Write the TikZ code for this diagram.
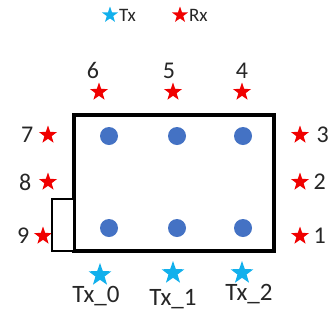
\documentclass[tikz,border=0pt]{standalone}
\usepackage{fontspec}
\setmainfont{Carlito}
\usepackage{tikz}
\usetikzlibrary{positioning,shapes.geometric}
\usepackage{xcolor}
\definecolor{rxRed}{HTML}{F00000}
\definecolor{txBlue}{HTML}{12B0EC}
\definecolor{antBlue}{HTML}{4472C4}
\definecolor{inkGray}{HTML}{262626}

\begin{document}
\begin{tikzpicture}[x=1pt, y=-1pt,
    rxStar/.style={star, star points=5, star point ratio=2.5, fill=rxRed, inner sep=0pt, minimum size=19pt},
    txStar/.style={star, star points=5, star point ratio=2.5, fill=txBlue, inner sep=0pt, minimum size=24pt},
    keyStar/.style={star, star points=5, star point ratio=2.5, inner sep=0pt, minimum size=17pt},
    antDot/.style={circle, fill=antBlue, inner sep=0pt, minimum size=18pt},
    numLabel/.style={text=inkGray, inner sep=0pt, font=\fontsize{24}{24}\selectfont},
    txLabel/.style={text=inkGray, inner sep=0pt, font=\fontsize{25}{25}\selectfont},
    keyLabel/.style={text=inkGray, inner sep=0pt, font=\fontsize{19}{19}\selectfont}
]
    \useasboundingbox (0,0) rectangle (336,322);

    % Legenda
    \node[keyStar, fill=txBlue] (keyTx) at (110,15) {};
    \node[keyLabel, right=4pt of keyTx] (keyTxText) {Tx};
    \node[keyStar, fill=rxRed] (keyRx) at (180,15) {};
    \node[keyLabel, right=4pt of keyRx] (keyRxText) {Rx};

    % Ricevitori Rx
    \node[rxStar] (rx1) at (300,236) {};
    \node[rxStar] (rx2) at (300,182) {};
    \node[rxStar] (rx3) at (300,135) {};
    \node[rxStar] (rx4) at (242,92) {};
    \node[rxStar] (rx5) at (173,92) {};
    \node[rxStar] (rx6) at (99,92) {};
    \node[rxStar] (rx7) at (48,135) {};
    \node[rxStar] (rx8) at (48,182) {};
    \node[rxStar] (rx9) at (43,236) {};

    \node[numLabel, right=8pt of rx1] (lab1) {1};
    \node[numLabel, right=8pt of rx2] (lab2) {2};
    \node[numLabel, right=11pt of rx3] (lab3) {3};
    \node[numLabel, above=3pt of rx4] (lab4) {4};
    \node[numLabel, above=3pt of rx5, xshift=-4pt] (lab5) {5};
    \node[numLabel, above=3pt of rx6, xshift=-6pt] (lab6) {6};
    \node[numLabel, left=9pt of rx7] (lab7) {7};
    \node[numLabel, left=11pt of rx8] (lab8) {8};
    \node[numLabel, left=8pt of rx9] (lab9) {9};

    % Stanza e ingresso
    \draw[line width=3.2pt, fill=white] (74,115) rectangle (274,251);
    \draw[line width=2.5pt, fill=white] (52,199) rectangle (74,251);

    % Antenne
    \foreach \px/\nome in {109/a, 177/b, 243/c} {
        \node[antDot] (dotTop\nome) at (\px,136) {};
        \node[antDot] (dotBot\nome) at (\px,228) {};
    }

    % Trasmettitori Tx
    \node[txStar] (tx0) at (100,275) {};
    \node[txStar] (tx1) at (173,273) {};
    \node[txStar] (tx2) at (242,273) {};

    \node[txLabel, below=6pt of tx0, xshift=-4pt] (labTx0) {Tx\_0};
    \node[txLabel, below=11pt of tx1] (labTx1) {Tx\_1};
    \node[txLabel, below=6pt of tx2, xshift=7pt] (labTx2) {Tx\_2};
\end{tikzpicture}
\end{document}
